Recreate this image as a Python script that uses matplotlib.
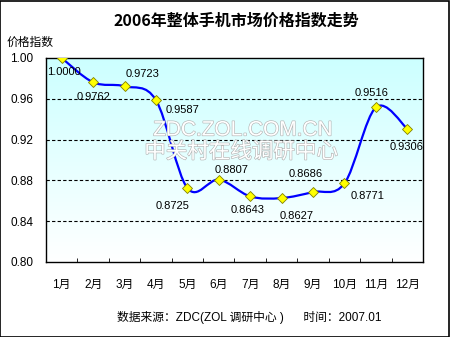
import numpy as np
import matplotlib
matplotlib.use('Agg')
import matplotlib.pyplot as plt
from matplotlib.path import Path
from matplotlib.patches import PathPatch, Rectangle
import matplotlib.patheffects as pe

plt.rcParams['font.family'] = ['Liberation Sans', 'Noto Sans CJK SC', 'DejaVu Sans']
plt.rcParams['axes.unicode_minus'] = False

# 数据
months = ['1月', '2月', '3月', '4月', '5月', '6月', '7月', '8月', '9月', '10月', '11月', '12月']
price_index = [1.0000, 0.9762, 0.9723, 0.9587, 0.8725, 0.8807, 0.8643, 0.8627, 0.8686, 0.8771, 0.9516, 0.9306]
yticks = [0.80, 0.84, 0.88, 0.92, 0.96, 1.00]

# 标签偏移 (像素, x 右 / y 上)
label_offsets = [(2, -14), (0, -15), (18, 12), (27, -10), (-15, -18), (13, 10),
                 (-3, -14), (15, -18), (-7, 18), (23, -13), (-4, 14), (-1, -18)]


def smooth_path(xs, ys):
    # Excel 风格平滑线 (Catmull-Rom -> Bezier)
    pts = np.column_stack([xs, ys])
    ext = np.vstack([pts[0], pts, pts[-1]])
    verts = [pts[0]]
    codes = [Path.MOVETO]
    for i in range(len(pts) - 1):
        p0, p1, p2, p3 = ext[i], ext[i + 1], ext[i + 2], ext[i + 3]
        verts += [p1 + (p2 - p0) / 6, p2 - (p3 - p1) / 6, p2]
        codes += [Path.CURVE4] * 3
    return Path(verts, codes)


def main():
    fig = plt.figure(figsize=(4.5, 3.37), dpi=100)
    fig.patch.set_facecolor('white')
    fig.patches.append(Rectangle((0.001, 0.001), 0.997, 0.996, transform=fig.transFigure,
                                 fill=False, edgecolor='black', linewidth=1.2))

    ax = fig.add_axes([46 / 450, 1 - 262 / 337, 377 / 450, 204 / 337])
    x = np.arange(1, len(months) + 1)

    # 渐变背景
    grad = np.linspace(0, 1, 256).reshape(-1, 1)
    top = np.array([1.0, 1.0, 1.0])
    bottom = np.array([0.80, 1.0, 1.0])
    img = top + (bottom - top) * grad[:, :, None]
    ax.imshow(img, extent=[0.5, 12.5, 1.00, 0.80], aspect='auto', zorder=0)

    ax.set_xlim(0.5, 12.5)
    ax.set_ylim(0.80, 1.00)

    for y in yticks[1:-1]:
        ax.axhline(y, color='black', linestyle=(0, (3, 2)), linewidth=0.8, zorder=1)

    # 水印
    wm = [pe.Stroke(linewidth=0.9, foreground='#b4b4b4'), pe.Normal()]
    fig.text(243 / 450, 1 - 130 / 337, 'ZDC.ZOL.COM.CN', fontsize=15, color='white',
             ha='center', va='center', path_effects=wm, zorder=2)
    fig.text(241 / 450, 1 - 152 / 337, '中关村在线调研中心', fontsize=15.5, color='white',
             family=['Noto Sans CJK SC'], ha='center', va='center', path_effects=wm, zorder=2)

    ax.add_patch(PathPatch(smooth_path(x, price_index), facecolor='none',
                           edgecolor='#0000ff', linewidth=1.6, zorder=3))
    ax.plot(x, price_index, linestyle='none', marker='D', markersize=5,
            markerfacecolor='#ffff00', markeredgecolor='#808000', markeredgewidth=0.6, zorder=4)

    for xi, v, off in zip(x, price_index, label_offsets):
        ax.annotate('%.4f' % v, (xi, v), xytext=off, textcoords='offset pixels',
                    ha='center', va='center', fontsize=8, zorder=5)

    ax.set_yticks(yticks)
    ax.set_yticklabels(['%.2f' % t for t in yticks], fontsize=8.5)
    ax.tick_params(axis='y', length=0, pad=9)
    ax.set_xticks(x)
    ax.set_xticklabels(months, fontsize=8.5)
    ax.set_xticks(np.arange(0.5, 13, 1), minor=True)
    ax.tick_params(axis='x', which='major', length=0, pad=12)
    ax.tick_params(axis='x', which='minor', length=3, direction='in', color='black')
    for s in ax.spines.values():
        s.set_linewidth(1.0)
        s.set_color('black')

    fig.text(236 / 450, 1 - 21 / 337, '2006年整体手机市场价格指数走势', fontsize=11.5,
             fontweight='bold', family=['Noto Sans CJK SC'], ha='center', va='center')
    fig.text(7 / 450, 1 - 42 / 337, '价格指数', fontsize=8.5, family=['Noto Sans CJK SC'],
             ha='left', va='center')
    fig.text(249 / 450, 1 - 318 / 337, '数据来源：ZDC(ZOL 调研中心 )      时间：2007.01',
             fontsize=8.5, ha='center', va='center')

    fig.savefig('out.png', dpi=100)


if __name__ == '__main__':
    main()
